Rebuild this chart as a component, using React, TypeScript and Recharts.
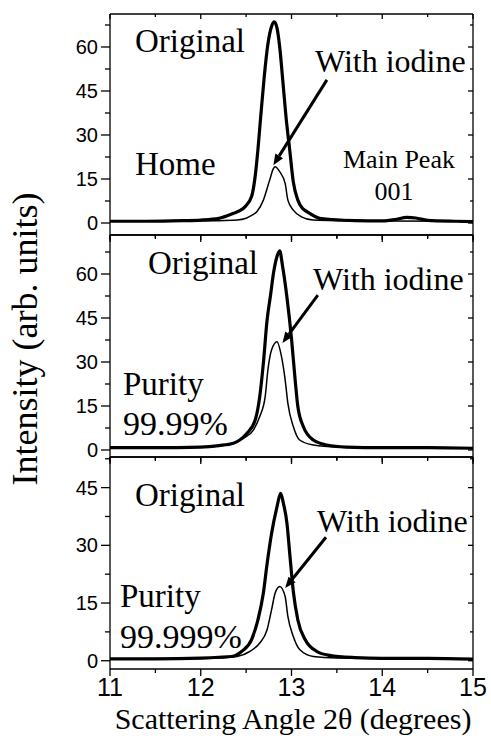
import { LineChart, Line, XAxis, YAxis, ReferenceLine } from "recharts";

// 2θ grid ticks
const X_TICKS = [11, 11.5, 12, 12.5, 13, 13.5, 14, 14.5, 15];
const Y_TICKS_70 = [0, 7.5, 15, 22.5, 30, 37.5, 45, 52.5, 60, 67.5];
const Y_TICKS_50 = [0, 7.5, 15, 22.5, 30, 37.5, 45, 52.5];

// Home sample
const HOME_ORIG_ANGLE = [11.0, 11.4, 11.8, 12.0, 12.2, 12.36, 12.43, 12.49, 12.56, 12.6, 12.63, 12.66, 12.7, 12.74, 12.78, 12.81, 12.84, 12.87, 12.9, 12.94, 12.98, 13.02, 13.07, 13.12, 13.17, 13.31, 13.45, 13.7, 14.0, 14.15, 14.27, 14.37, 14.5, 14.8, 15.0];
const HOME_ORIG_INT = [0.6, 0.6, 0.8, 1.0, 1.6, 3.3, 4.2, 5.6, 9, 16, 25, 36, 50, 61, 67, 68.6, 66.5, 60, 50, 36, 25, 14, 7.8, 5, 3.9, 1.6, 1.2, 0.8, 0.7, 1.2, 1.9, 1.7, 0.9, 0.6, 0.5];
const HOME_IOD_ANGLE = [11.0, 11.8, 12.2, 12.4, 12.5, 12.56, 12.62, 12.69, 12.76, 12.8, 12.82, 12.87, 12.93, 12.96, 13.02, 13.11, 13.24, 13.5, 14.0, 15.0];
const HOME_IOD_INT = [0.6, 0.7, 0.8, 1.0, 1.6, 2.6, 3.9, 7.8, 14.7, 18.5, 19.2, 17.5, 13.5, 7.8, 4.4, 2.1, 1.0, 0.8, 0.7, 0.6];
const HOME_ARROW = [
  { x: 13.39, y: 48.8 },
  { x: 12.8, y: 19.7 },
];

// Purity 99.99%
const P4_ORIG_ANGLE = [11.0, 11.5, 12.0, 12.2, 12.36, 12.43, 12.51, 12.6, 12.65, 12.69, 12.73, 12.77, 12.8, 12.84, 12.87, 12.9, 12.95, 13.0, 13.04, 13.07, 13.13, 13.24, 13.39, 13.6, 14.0, 14.5, 15.0];
const P4_ORIG_INT = [0.8, 0.8, 1.0, 1.5, 2.3, 3.4, 5.7, 10.2, 18.2, 29.6, 44, 53, 60, 66, 67.9, 63, 52, 38, 24, 14.8, 8, 3.4, 1.7, 1.0, 0.8, 0.8, 0.6];
const P4_IOD_ANGLE = [11.0, 12.0, 12.2, 12.36, 12.47, 12.58, 12.65, 12.71, 12.74, 12.78, 12.84, 12.89, 12.93, 12.96, 13.02, 13.09, 13.24, 13.5, 14.0, 15.0];
const P4_IOD_INT = [0.8, 0.9, 1.4, 2.3, 4, 6.8, 11.4, 18.2, 27.3, 34.1, 36.9, 31.8, 23.9, 15.9, 8, 3.4, 1.7, 1.0, 0.8, 0.7];
const P4_ARROW = [
  { x: 13.29, y: 52.8 },
  { x: 12.9, y: 36.5 },
];

// Purity 99.999%
const P5_ORIG_ANGLE = [11.0, 11.5, 12.0, 12.2, 12.34, 12.45, 12.56, 12.63, 12.69, 12.73, 12.78, 12.84, 12.88, 12.91, 12.95, 12.98, 13.02, 13.07, 13.15, 13.28, 13.42, 13.7, 14.0, 14.5, 15.0];
const P5_ORIG_INT = [0.5, 0.5, 0.7, 0.9, 1.1, 2.4, 5.5, 10.6, 17.6, 25, 33, 40, 43.5, 41, 35.7, 28, 18, 10.6, 5.5, 2.4, 1.4, 0.8, 0.6, 0.6, 0.4];
const P5_IOD_ANGLE = [11.0, 12.0, 12.25, 12.4, 12.54, 12.65, 12.73, 12.78, 12.82, 12.87, 12.93, 12.96, 13.02, 13.09, 13.24, 13.5, 14.0, 15.0];
const P5_IOD_INT = [0.5, 0.6, 0.8, 1.1, 2.4, 4.6, 8.0, 13.2, 17.6, 19.3, 16.7, 11.5, 6.3, 2.9, 1.1, 0.7, 0.6, 0.5];
const P5_ARROW = [
  { x: 13.38, y: 32.1 },
  { x: 12.93, y: 18.9 },
];

const zip = (a: number[], b: number[]) => a.map((v, i) => ({ a: v, i: b[i] }));

const SANS = "'Liberation Sans', Arial, sans-serif";
const SERIF = "'Liberation Serif', 'DejaVu Serif', 'Times New Roman', serif";
const isMajorX = (v: number) => Number.isInteger(v);
const isMajorY = (v: number) => v % 15 === 0;

function BottomTick(props: any) {
  const { x, y, payload, showLabel } = props;
  const major = isMajorX(payload.value);
  return (
    <g>
      <line x1={x} y1={y} x2={x} y2={y + (major ? 7 : 4)} stroke="#000" strokeWidth={1.3} />
      {showLabel && major && (
        <text x={x} y={y + 27} textAnchor="middle" fontSize={25} fontFamily={SANS} fill="#000">
          {payload.value}
        </text>
      )}
    </g>
  );
}

function TopTick(props: any) {
  const { x, y, payload } = props;
  const major = isMajorX(payload.value);
  return <line x1={x} y1={y} x2={x} y2={y + (major ? 5 : 3)} stroke="#000" strokeWidth={1.3} />;
}

function LeftTick(props: any) {
  const { x, y, payload } = props;
  const major = isMajorY(payload.value);
  return (
    <g>
      <line x1={x - (major ? 9 : 5)} y1={y} x2={x} y2={y} stroke="#000" strokeWidth={1.3} />
      {major && (
        <text x={x - 12} y={y} dy={7} textAnchor="end" fontSize={20} fontFamily={SANS} fill="#000">
          {payload.value}
        </text>
      )}
    </g>
  );
}

function RightTick(props: any) {
  const { x, y, payload } = props;
  const major = isMajorY(payload.value);
  return <line x1={x} y1={y} x2={x - (major ? 5 : 3)} y2={y} stroke="#000" strokeWidth={1.3} />;
}

function Arrow(props: any) {
  const { x1, y1, x2, y2 } = props;
  const ang = Math.atan2(y2 - y1, x2 - x1);
  const head = 11;
  const half = 4.5;
  const bx = x2 - head * Math.cos(ang);
  const by = y2 - head * Math.sin(ang);
  const px = -Math.sin(ang) * half;
  const py = Math.cos(ang) * half;
  return (
    <g>
      <line x1={x1} y1={y1} x2={bx} y2={by} stroke="#000" strokeWidth={3} />
      <polygon points={`${x2},${y2} ${bx + px},${by + py} ${bx - px},${by - py}`} fill="#000" />
    </g>
  );
}

interface PanelProps {
  top: number;
  bottom: number;
  yDomain: [number, number];
  yTicks: number[];
  orig: { a: number; i: number }[];
  iodine: { a: number; i: number }[];
  arrow: { x: number; y: number }[];
  showX?: boolean;
}

// axes are 1px thick so they still render; margins are reduced by 1 to compensate
function Panel({ top, bottom, yDomain, yTicks, orig, iodine, arrow, showX }: PanelProps) {
  const axisLine = { stroke: "#000", strokeWidth: 1.3 };
  return (
    <div style={{ position: "absolute", left: 0, top: 0 }}>
      <LineChart width={491} height={736} margin={{ top: top - 1, bottom: bottom - 1, left: 109, right: 17 }}>
        <XAxis
          type="number"
          dataKey="a"
          domain={[11, 15]}
          ticks={X_TICKS}
          interval={0}
          allowDataOverflow
          height={1}
          tickSize={0}
          tickMargin={0}
          tickLine={false}
          axisLine={axisLine}
          tick={(p: any) => <BottomTick {...p} showLabel={showX} />}
        />
        <XAxis
          xAxisId="t"
          orientation="top"
          type="number"
          dataKey="a"
          domain={[11, 15]}
          ticks={X_TICKS}
          interval={0}
          allowDataOverflow
          height={1}
          tickSize={0}
          tickMargin={0}
          tickLine={false}
          axisLine={axisLine}
          tick={(p: any) => <TopTick {...p} />}
        />
        <YAxis
          type="number"
          domain={yDomain}
          ticks={yTicks}
          interval={0}
          allowDataOverflow
          width={1}
          tickSize={0}
          tickMargin={0}
          tickLine={false}
          axisLine={axisLine}
          tick={(p: any) => <LeftTick {...p} />}
        />
        <YAxis
          yAxisId="r"
          orientation="right"
          type="number"
          domain={yDomain}
          ticks={yTicks}
          interval={0}
          allowDataOverflow
          width={1}
          tickSize={0}
          tickMargin={0}
          tickLine={false}
          axisLine={axisLine}
          tick={(p: any) => <RightTick {...p} />}
        />
        <Line data={iodine} dataKey="i" type="monotone" stroke="#000" strokeWidth={1.5} dot={false} isAnimationActive={false} />
        <Line data={orig} dataKey="i" type="monotone" stroke="#000" strokeWidth={3.2} dot={false} isAnimationActive={false} />
        <ReferenceLine segment={arrow} shape={(p: any) => <Arrow {...p} />} />
      </LineChart>
    </div>
  );
}

const txt = (x: number, y: number, size: number, s: string, anchor = "start") => (
  <text x={x} y={y} fontSize={size} fontFamily={SERIF} textAnchor={anchor} fill="#000">
    {s}
  </text>
);

export default function App() {
  return (
    <div style={{ position: "absolute", left: 0, top: 0, width: 491, height: 736, background: "#fff", overflow: "hidden" }}>
      <Panel top={14} bottom={501} yDomain={[-4.09, 71.25]} yTicks={Y_TICKS_70} orig={zip(HOME_ORIG_ANGLE, HOME_ORIG_INT)} iodine={zip(HOME_IOD_ANGLE, HOME_IOD_INT)} arrow={HOME_ARROW} />
      <Panel top={235} bottom={279} yDomain={[-2.39, 73.3]} yTicks={Y_TICKS_70} orig={zip(P4_ORIG_ANGLE, P4_ORIG_INT)} iodine={zip(P4_IOD_ANGLE, P4_IOD_INT)} arrow={P4_ARROW} />
      <Panel top={457} bottom={67} yDomain={[-2.15, 52.96]} yTicks={Y_TICKS_50} orig={zip(P5_ORIG_ANGLE, P5_ORIG_INT)} iodine={zip(P5_IOD_ANGLE, P5_IOD_INT)} arrow={P5_ARROW} showX />
      <svg width={491} height={736} style={{ position: "absolute", left: 0, top: 0, pointerEvents: "none" }}>
        {txt(135, 52, 33, "Original")}
        {txt(315, 72, 32, "With iodine")}
        {txt(135, 175, 33, "Home")}
        {txt(343, 168, 26, "Main Peak")}
        {txt(394, 200, 26, "001", "middle")}
        {txt(148, 274, 33, "Original")}
        {txt(313, 290, 32, "With iodine")}
        {txt(123, 395, 33, "Purity")}
        {txt(123, 435, 34, "99.99%")}
        {txt(135, 506, 33, "Original")}
        {txt(317, 532, 32, "With iodine")}
        {txt(120, 607, 33, "Purity")}
        {txt(120, 648, 34, "99.999%")}
        <text x={293} y={729} fontSize={30} fontFamily={SERIF} textAnchor="middle" fill="#000">
          Scattering Angle 2θ (degrees)
        </text>
        <text x={37} y={339} fontSize={36} fontFamily={SERIF} textAnchor="middle" fill="#000" transform="rotate(-90, 37, 339)">
          Intensity (arb. units)
        </text>
      </svg>
    </div>
  );
}
